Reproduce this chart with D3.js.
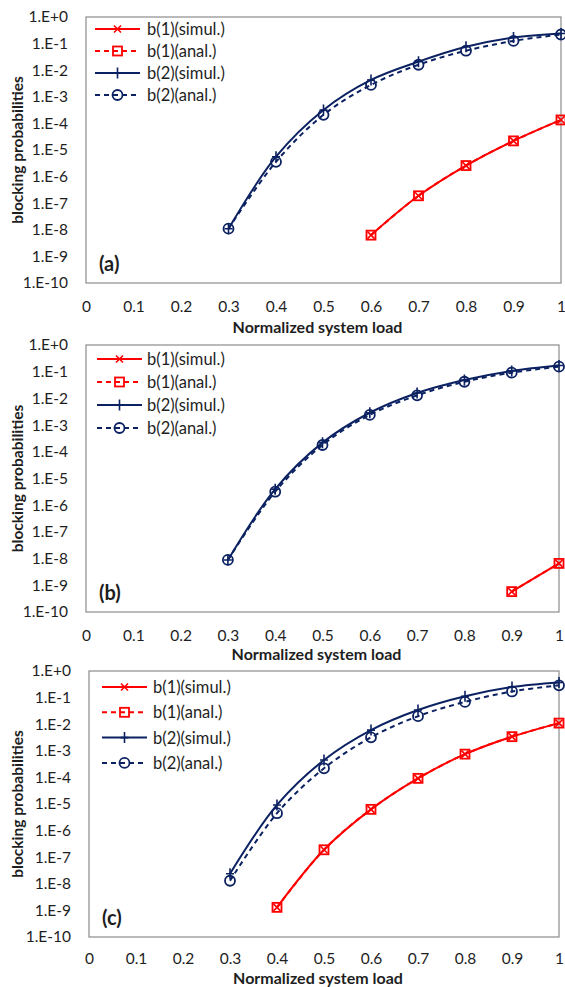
<!DOCTYPE html>
<html>
<head>
<meta charset="utf-8">
<script src="https://cdn.jsdelivr.net/npm/d3@7"></script>
<style>
  body { margin: 0; background: #fff; }
  svg text { font-family: Lato, "Open Sans", sans-serif; fill: #1e1e1e; }
</style>
</head>
<body>
<div class="chart"></div>
<script>
// x values (normalized system load)
const loads = [0.3, 0.4, 0.5, 0.6, 0.7, 0.8, 0.9, 1.0];

// panel (a)
const loadsA1 = [0.6, 0.7, 0.8, 0.9, 1.0];
const a_b1_simul = [6.3e-9, 1.9e-7, 2.6e-6, 2.2e-5, 1.35e-4];
const a_b1_anal = [6.3e-9, 1.9e-7, 2.6e-6, 2.2e-5, 1.35e-4];
const a_b2_simul = [1.1e-8, 5.6e-6, 3.2e-4, 4.3e-3, 2.1e-2, 7.6e-2, 0.17, 0.24];
const a_b2_anal = [1.1e-8, 3.6e-6, 2.1e-4, 2.8e-3, 1.6e-2, 5.4e-2, 0.126, 0.22];

// panel (b)
const loadsB1 = [0.9, 1.0];
const b_b1_simul = [5.8e-10, 6.6e-9];
const b_b1_anal = [5.8e-10, 6.6e-9];
const b_b2_simul = [8.9e-9, 4.0e-6, 2.2e-4, 2.9e-3, 1.6e-2, 4.9e-2, 0.107, 0.17];
const b_b2_anal = [8.9e-9, 3.2e-6, 1.8e-4, 2.4e-3, 1.3e-2, 4.2e-2, 0.092, 0.154];

// panel (c)
const loadsC1 = [0.4, 0.5, 0.6, 0.7, 0.8, 0.9, 1.0];
const c_b1_simul = [1.3e-9, 1.9e-7, 6.3e-6, 9.2e-5, 7.5e-4, 3.4e-3, 1.1e-2];
const c_b1_anal = [1.3e-9, 1.9e-7, 6.3e-6, 9.2e-5, 7.5e-4, 3.4e-3, 1.1e-2];
const c_b2_simul = [2.4e-8, 9.2e-6, 4.5e-4, 6.0e-3, 3.4e-2, 0.112, 0.25, 0.37];
const c_b2_anal = [1.3e-8, 4.5e-6, 2.2e-4, 3.2e-3, 2.0e-2, 0.069, 0.17, 0.29];

const seriesNames = ['b(1)(simul.)', 'b(1)(anal.)', 'b(2)(simul.)', 'b(2)(anal.)'];
const xTicks = [0, 0.1, 0.2, 0.3, 0.4, 0.5, 0.6, 0.7, 0.8, 0.9, 1];
const xTickLabels = ['0', '0.1', '0.2', '0.3', '0.4', '0.5', '0.6', '0.7', '0.8', '0.9', '1'];
const yTicks = [1, 1e-1, 1e-2, 1e-3, 1e-4, 1e-5, 1e-6, 1e-7, 1e-8, 1e-9, 1e-10];
const yTickLabels = ['1.E+0', '1.E-1', '1.E-2', '1.E-3', '1.E-4', '1.E-5', '1.E-6', '1.E-7', '1.E-8', '1.E-9', '1.E-10'];

const RED = '#ff0000';
const NAVY = '#0b2161';

const svg = d3.select('.chart').append('svg')
    .attr('width', 565)
    .attr('height', 987)
    .attr('viewBox', [0, 0, 565, 987]);

function zip(xs, ys) {
    return xs.map((x, i) => ({x: x, y: ys[i]}));
}

function renderPanel(cfg) {
    const xScale = d3.scaleLinear().domain([0, 1]).range([cfg.left, cfg.right]);
    const yScale = d3.scaleLog().domain([1e-10, 1]).range([cfg.bottom, cfg.top]);
    const g = svg.append('g');

    g.append('rect')
        .attr('x', cfg.left)
        .attr('y', cfg.top)
        .attr('width', cfg.right - cfg.left)
        .attr('height', cfg.bottom - cfg.top)
        .attr('fill', 'none')
        .attr('stroke', '#8c8c8c')
        .attr('stroke-width', 1.2);

    const xAxis = d3.axisBottom(xScale)
        .tickValues(xTicks)
        .tickFormat((d, i) => xTickLabels[i])
        .tickSize(0)
        .tickPadding(cfg.xPad);
    const yAxis = d3.axisLeft(yScale)
        .tickValues(yTicks)
        .tickFormat((d, i) => yTickLabels[i])
        .tickSize(0)
        .tickPadding(cfg.left - cfg.labelRight);

    g.append('g')
        .attr('class', 'axis x-axis')
        .attr('transform', `translate(0, ${cfg.bottom})`)
        .call(xAxis)
        .call(s => s.select('.domain').remove())
        .selectAll('text')
        .style('font-size', '15.5px');

    g.append('g')
        .attr('class', 'axis y-axis')
        .attr('transform', `translate(${cfg.left}, 0)`)
        .call(yAxis)
        .call(s => s.select('.domain').remove())
        .selectAll('text')
        .style('font-size', '15.5px');

    g.append('text')
        .attr('x', (cfg.left + cfg.right) / 2 - 6)
        .attr('y', cfg.xTitleY)
        .attr('text-anchor', 'middle')
        .attr('dominant-baseline', 'central')
        .style('font-size', '16px')
        .style('font-weight', 'bold')
        .text('Normalized system load');

    g.append('text')
        .attr('transform', `translate(17, ${(cfg.top + cfg.bottom) / 2}) rotate(-90)`)
        .attr('text-anchor', 'middle')
        .attr('dominant-baseline', 'central')
        .style('font-size', '15.5px')
        .style('font-weight', 'bold')
        .text('blocking probabilities');

    g.append('text')
        .attr('x', cfg.left + 13)
        .attr('y', cfg.bottom - 20)
        .attr('dominant-baseline', 'central')
        .style('font-size', '20px')
        .style('font-weight', 'bold')
        .text(cfg.label);

    const line = d3.line()
        .x(d => xScale(d.x))
        .y(d => yScale(d.y))
        .curve(d3.curveCatmullRom.alpha(0.5));

    const series = [
        {name: seriesNames[0], data: zip(cfg.b1x, cfg.b1s), color: RED, dash: null, marker: 'x'},
        {name: seriesNames[1], data: zip(cfg.b1x, cfg.b1a), color: RED, dash: '5,4', marker: 'square'},
        {name: seriesNames[2], data: zip(loads, cfg.b2s), color: NAVY, dash: null, marker: 'plus'},
        {name: seriesNames[3], data: zip(loads, cfg.b2a), color: NAVY, dash: '5,4', marker: 'circle'}
    ];

    series.forEach(s => {
        g.append('path')
            .datum(s.data)
            .attr('fill', 'none')
            .attr('stroke', s.color)
            .attr('stroke-width', 2)
            .attr('stroke-dasharray', s.dash)
            .attr('d', line);
        g.selectAll(null)
            .data(s.data)
            .enter()
            .append('g')
            .attr('transform', d => `translate(${xScale(d.x)}, ${yScale(d.y)})`)
            .each(function() { drawMarker(d3.select(this), s.marker, s.color); });
    });

    // legend
    const leg = g.append('g');
    series.forEach((s, i) => {
        const yy = cfg.legY + i * cfg.legStep;
        leg.append('line')
            .attr('x1', cfg.legX)
            .attr('x2', cfg.legX + 45)
            .attr('y1', yy)
            .attr('y2', yy)
            .attr('stroke', s.color)
            .attr('stroke-width', 2)
            .attr('stroke-dasharray', s.dash);
        drawMarker(leg.append('g').attr('transform', `translate(${cfg.legX + 22.5}, ${yy})`), s.marker, s.color);
        leg.append('text')
            .attr('x', cfg.legX + cfg.legText)
            .attr('y', yy)
            .attr('dominant-baseline', 'central')
            .style('font-size', '16.5px')
            .text(s.name);
    });
}

function drawMarker(sel, type, color) {
    if (type === 'x') {
        sel.append('path').attr('d', 'M-3.5,-3.5L3.5,3.5M-3.5,3.5L3.5,-3.5')
            .attr('stroke', color).attr('stroke-width', 1.6).attr('fill', 'none');
    } else if (type === 'square') {
        sel.append('rect').attr('x', -4.5).attr('y', -4.5).attr('width', 9).attr('height', 9)
            .attr('stroke', color).attr('stroke-width', 1.8).attr('fill', 'none');
    } else if (type === 'plus') {
        sel.append('path').attr('d', 'M-4,0H4M0,-5.5V5.5')
            .attr('stroke', color).attr('stroke-width', 1.6).attr('fill', 'none');
    } else {
        sel.append('circle').attr('r', 5)
            .attr('stroke', color).attr('stroke-width', 1.8).attr('fill', 'none');
    }
}

renderPanel({left: 86, right: 561, top: 17, bottom: 283, labelRight: 68, xPad: 18, xTitleY: 326, label: '(a)',
    legX: 95, legY: 29, legStep: 22, legText: 52,
    b1x: loadsA1, b1s: a_b1_simul, b1a: a_b1_anal, b2s: a_b2_simul, b2a: a_b2_anal});
renderPanel({left: 86, right: 559, top: 345, bottom: 612, labelRight: 68, xPad: 18, xTitleY: 653, label: '(b)',
    legX: 97, legY: 359, legStep: 23, legText: 50,
    b1x: loadsB1, b1s: b_b1_simul, b1a: b_b1_anal, b2s: b_b2_simul, b2a: b_b2_anal});
renderPanel({left: 89, right: 559, top: 671, bottom: 937, labelRight: 71, xPad: 16, xTitleY: 977.5, label: '(c)',
    legX: 102, legY: 687, legStep: 25.3, legText: 51,
    b1x: loadsC1, b1s: c_b1_simul, b1a: c_b1_anal, b2s: c_b2_simul, b2a: c_b2_anal});
</script>
</body>
</html>
